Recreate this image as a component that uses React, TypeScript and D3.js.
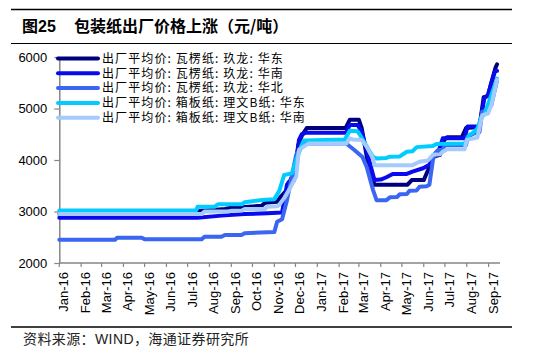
import React, { useEffect, useRef } from "react";
import * as d3 from "d3";

// 出厂平均价, 元/吨
const corrugatedEast: [string, number][] = [
    ["2016-01-01", 2950], ["2016-07-13", 2950], ["2016-07-18", 3010], ["2016-08-23", 3050],
    ["2016-08-30", 3070], ["2016-10-14", 3110], ["2016-10-19", 3170], ["2016-11-05", 3190],
    ["2016-11-11", 3300], ["2016-11-19", 3420], ["2016-11-25", 3650], ["2016-11-29", 3670],
    ["2016-12-05", 4290], ["2016-12-10", 4470], ["2016-12-17", 4620], ["2017-02-10", 4620],
    ["2017-02-16", 4780], ["2017-03-01", 4780], ["2017-03-05", 4620], ["2017-03-13", 4000],
    ["2017-03-23", 3520], ["2017-05-09", 3520], ["2017-05-15", 3610], ["2017-06-01", 3610],
    ["2017-06-07", 3800], ["2017-06-14", 4060], ["2017-06-24", 4100], ["2017-06-30", 4390],
    ["2017-07-04", 4440], ["2017-07-25", 4440], ["2017-07-31", 4620], ["2017-08-19", 4640],
    ["2017-08-25", 5220], ["2017-08-31", 5240], ["2017-09-04", 5460], ["2017-09-11", 5800],
    ["2017-09-13", 5860],
];

const corrugatedSouth: [string, number][] = [
    ["2016-01-01", 2880], ["2016-07-15", 2880], ["2016-08-18", 2920], ["2016-09-20", 2950],
    ["2016-10-22", 2965], ["2016-11-12", 2980], ["2016-11-19", 3520], ["2016-11-22", 3580],
    ["2016-11-29", 3600], ["2016-12-06", 4390], ["2016-12-10", 4500], ["2016-12-16", 4530],
    ["2017-02-11", 4530], ["2017-02-16", 4680], ["2017-02-27", 4680], ["2017-03-05", 4550],
    ["2017-03-23", 3610], ["2017-04-01", 3620], ["2017-04-09", 3665], ["2017-04-18", 3730],
    ["2017-05-08", 3730], ["2017-05-16", 3775], ["2017-05-31", 3840], ["2017-06-09", 3905],
    ["2017-06-14", 4065], ["2017-06-21", 4125], ["2017-06-28", 4420], ["2017-07-29", 4420],
    ["2017-08-02", 4650], ["2017-08-19", 4650], ["2017-08-26", 5200], ["2017-08-31", 5260],
    ["2017-09-10", 5720], ["2017-09-13", 5730],
];

const corrugatedNorth: [string, number][] = [
    ["2016-01-01", 2450], ["2016-03-20", 2450], ["2016-03-23", 2490], ["2016-04-27", 2490],
    ["2016-05-01", 2460], ["2016-07-21", 2460], ["2016-07-25", 2510], ["2016-08-18", 2510],
    ["2016-08-23", 2545], ["2016-09-16", 2545], ["2016-09-20", 2580], ["2016-11-01", 2600],
    ["2016-11-05", 2800], ["2016-11-12", 2850], ["2016-11-19", 3220], ["2016-11-22", 3420],
    ["2016-12-02", 4100], ["2016-12-10", 4260], ["2016-12-16", 4320], ["2017-02-11", 4320],
    ["2017-02-23", 4190], ["2017-03-06", 4060], ["2017-03-12", 3870], ["2017-03-21", 3420],
    ["2017-03-26", 3220], ["2017-04-09", 3220], ["2017-04-14", 3275], ["2017-04-24", 3280],
    ["2017-04-28", 3335], ["2017-05-08", 3340], ["2017-05-12", 3405], ["2017-05-22", 3410],
    ["2017-05-26", 3480], ["2017-06-05", 3490], ["2017-06-09", 3520], ["2017-06-14", 4000],
    ["2017-06-17", 4130], ["2017-06-21", 4190], ["2017-06-28", 4200], ["2017-07-01", 4290],
    ["2017-07-31", 4290], ["2017-08-02", 4450], ["2017-08-12", 4520], ["2017-08-19", 4540],
    ["2017-08-23", 4940], ["2017-08-29", 4960], ["2017-09-05", 5070], ["2017-09-13", 5550],
];

const boardEast: [string, number][] = [
    ["2016-01-01", 3020], ["2016-07-13", 3020], ["2016-07-15", 3090], ["2016-08-08", 3090],
    ["2016-08-13", 3140], ["2016-09-16", 3140], ["2016-09-20", 3180], ["2016-10-15", 3225],
    ["2016-11-01", 3240], ["2016-11-08", 3400], ["2016-11-15", 3710], ["2016-11-26", 3740],
    ["2016-12-02", 4000], ["2016-12-09", 4260], ["2016-12-13", 4380], ["2017-02-09", 4400],
    ["2017-02-16", 4570], ["2017-02-27", 4560], ["2017-03-02", 4500], ["2017-03-21", 4060],
    ["2017-03-26", 4030], ["2017-04-09", 4040], ["2017-04-14", 4065], ["2017-04-28", 4070],
    ["2017-05-08", 4160], ["2017-05-16", 4170], ["2017-05-22", 4250], ["2017-06-14", 4270],
    ["2017-06-19", 4310], ["2017-07-29", 4320], ["2017-08-05", 4490], ["2017-08-09", 4520],
    ["2017-08-16", 4610], ["2017-08-22", 4840], ["2017-08-26", 4880], ["2017-09-13", 5580],
];

const boardSouth: [string, number][] = [
    ["2016-01-01", 2950], ["2016-07-21", 2950], ["2016-07-25", 3000], ["2016-08-27", 3000],
    ["2016-09-02", 3015], ["2016-09-16", 3020], ["2016-09-20", 3050], ["2016-10-19", 3050],
    ["2016-10-22", 3090], ["2016-11-05", 3100], ["2016-11-08", 3130], ["2016-11-15", 3260],
    ["2016-11-22", 3420], ["2016-12-02", 3680], ["2016-12-06", 4200], ["2016-12-16", 4290],
    ["2016-12-20", 4320], ["2017-02-11", 4320], ["2017-02-16", 4420], ["2017-02-20", 4400],
    ["2017-03-05", 4390], ["2017-03-12", 4260], ["2017-03-21", 4030], ["2017-03-23", 3900],
    ["2017-05-16", 3900], ["2017-05-26", 3965], ["2017-06-07", 3990], ["2017-06-14", 4100],
    ["2017-06-24", 4110], ["2017-06-28", 4160], ["2017-07-04", 4210], ["2017-07-29", 4210],
    ["2017-08-01", 4390], ["2017-08-16", 4435], ["2017-08-23", 4870], ["2017-08-31", 4900],
    ["2017-09-05", 5070], ["2017-09-13", 5560],
];

const seriesLabels = [
    "出厂平均价: 瓦楞纸: 玖龙: 华东",
    "出厂平均价: 瓦楞纸: 玖龙: 华南",
    "出厂平均价: 瓦楞纸: 玖龙: 华北",
    "出厂平均价: 箱板纸: 理文B纸: 华东",
    "出厂平均价: 箱板纸: 理文B纸: 华南",
];
const seriesColors = ["#00007f", "#0a0aef", "#3a66f2", "#00ccff", "#a4cbfb"];
const yTicks = [2000, 3000, 4000, 5000, 6000];

const W = 534;
const H = 358;

const App = () => {
    const svgRef = useRef(null);

    useEffect(() => {
        const svg = d3.select(svgRef.current);
        svg.selectAll("*").remove();

        const parse = d3.timeParse("%Y-%m-%d");
        const allSeries = [corrugatedEast, corrugatedSouth, corrugatedNorth, boardEast, boardSouth].map(
            (s) => s.map(([d, v]) => [parse(d), v] as [Date, number])
        );

        const x = d3
            .scaleTime()
            .domain([new Date(2016, 0, 1), new Date(2017, 9, 1)])
            .range([59.3, 509.75]);
        const y = d3.scaleLinear().domain([2000, 6000]).range([263, 57]);

        const sans = "'Liberation Sans', Arial, 'Noto Sans CJK SC', sans-serif";
        const cjk = "'Noto Sans CJK SC', 'Liberation Sans', sans-serif";

        // header / footer rules
        svg.append("line").attr("x1", 11).attr("x2", 512).attr("y1", 9.5).attr("y2", 9.5)
            .attr("stroke", "#000").attr("stroke-width", 1.5);
        svg.append("line").attr("x1", 11).attr("x2", 512).attr("y1", 43.5).attr("y2", 43.5)
            .attr("stroke", "#000").attr("stroke-width", 1);
        svg.append("line").attr("x1", 11).attr("x2", 512).attr("y1", 327).attr("y2", 327)
            .attr("stroke", "#000").attr("stroke-width", 1.5);

        svg.append("text").attr("x", 22).attr("y", 32).text("图25")
            .attr("font-family", sans).attr("font-weight", "bold").attr("font-size", 16);
        svg.append("text").attr("x", 74).attr("y", 32).text("包装纸出厂价格上涨（元/吨）")
            .attr("font-family", cjk).attr("font-weight", "bold").attr("font-size", 16);

        svg.append("text").attr("x", 23).attr("y", 344).text("资料来源：WIND，海通证券研究所")
            .attr("font-family", sans).attr("font-size", 14).attr("fill", "#222")
            .attr("letter-spacing", 0.4);

        // y axis
        const yAxis = svg.append("g").attr("transform", "translate(59.3,0)")
            .call(d3.axisLeft(y).tickValues(yTicks).tickSize(5).tickSizeOuter(0).tickPadding(7).tickFormat(d3.format("d")));
        yAxis.select(".domain").attr("stroke", "#868686").attr("stroke-width", 1.5);
        yAxis.selectAll(".tick line").attr("stroke", "#868686").attr("stroke-width", 1.2);
        yAxis.selectAll(".tick text").attr("font-family", sans).attr("font-size", 13).attr("fill", "#000");

        // x axis
        const months = d3.timeMonth.range(new Date(2016, 0, 1), new Date(2017, 9, 1));
        const xAxis = svg.append("g");
        xAxis.append("line").attr("x1", 59.3).attr("x2", 500).attr("y1", 263).attr("y2", 263)
            .attr("stroke", "#868686").attr("stroke-width", 1.5);
        xAxis.selectAll(".xt").data(months).enter().append("line")
            .attr("x1", (d) => x(d)).attr("x2", (d) => x(d))
            .attr("y1", 263).attr("y2", 267)
            .attr("stroke", "#868686").attr("stroke-width", 1.2);
        const fmt = d3.timeFormat("%b-%y");
        xAxis.selectAll(".xl").data(months).enter().append("text")
            .attr("transform", (d) => `translate(${x(d) + 9},272) rotate(-90)`)
            .attr("text-anchor", "end")
            .attr("font-family", sans).attr("font-size", 13)
            .text((d) => fmt(d));

        // series
        const line = d3.line<[Date, number]>().x((d) => x(d[0])).y((d) => y(d[1]));
        allSeries.forEach((s, i) => {
            svg.append("path").attr("d", line(s)).attr("fill", "none")
                .attr("stroke", seriesColors[i]).attr("stroke-width", 4)
                .attr("stroke-linejoin", "round").attr("stroke-linecap", "round");
        });

        // legend
        const legend = svg.selectAll(".lg").data(seriesLabels).enter().append("g")
            .attr("transform", (_d, i) => `translate(0,${58.5 + i * 14.8})`);
        legend.append("line").attr("x1", 58).attr("x2", 98).attr("y1", 0).attr("y2", 0)
            .attr("stroke", (_d, i) => seriesColors[i]).attr("stroke-width", 4)
            .attr("stroke-linecap", "round");
        legend.append("text").attr("x", 102).attr("y", 4.2)
            .attr("font-family", cjk).attr("font-size", 12).attr("letter-spacing", 1.1)
            .text((d) => d);
    }, []);

    return (
        <svg
            ref={svgRef}
            width={W}
            height={H}
            style={{ position: "absolute", left: 0, top: 0, background: "#fff" }}
        ></svg>
    );
};

export default App;
